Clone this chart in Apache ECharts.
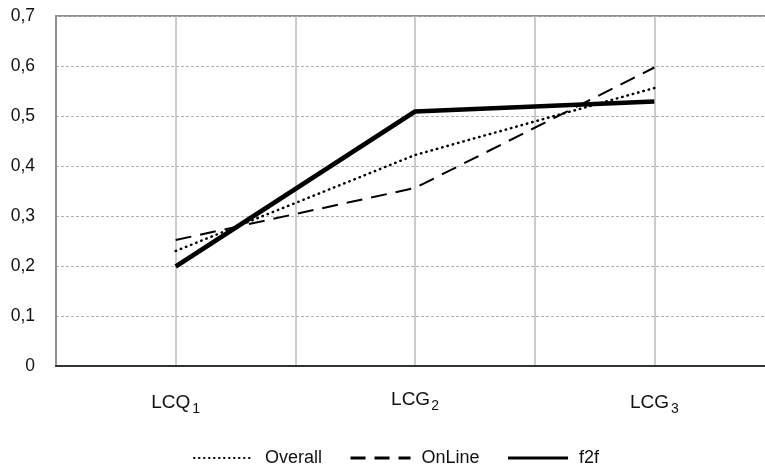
<!DOCTYPE html>
<html><head><meta charset="utf-8">
<script src="https://cdn.jsdelivr.net/npm/echarts@6/dist/echarts.min.js"></script>
<style>html,body{margin:0;padding:0;background:#fff}#c{width:765px;height:466px}</style>
</head><body><div id="c"></div>
<script>
const categories = ['LCQ1', 'LCG2', 'LCG3'];
const overall = [0.23, 0.422, 0.556];
const online = [0.252, 0.356, 0.597];
const f2f = [0.199, 0.509, 0.529];
const yTicks = [0, 0.1, 0.2, 0.3, 0.4, 0.5, 0.6, 0.7];

const font = 'Liberation Sans, Arial, sans-serif';
const chart = echarts.init(document.getElementById('c'));
chart.setOption({
  animation: false,
  backgroundColor: '#fff',
  grid: {left: 56, top: 16, width: 718, height: 350, show: true, borderColor: '#8a9094', borderWidth: 2,
     backgroundColor: 'transparent', outerBoundsMode: 'none', containLabel: false},
  legend: {
    top: 444, left: 188, itemWidth: 60, itemHeight: 14, itemGap: 27,
    textStyle: {fontFamily: font, fontSize: 18, color: '#111', padding: [0, 0, 0, 6]},
    itemStyle: {opacity: 0},
    data: [
      {name: 'Overall', lineStyle: {width: 2, type: [0.5, 4.5], cap: 'round'}},
      {name: 'OnLine', lineStyle: {width: 3, type: [15, 9]}},
      {name: 'f2f', lineStyle: {width: 3}}
    ]
  },
  xAxis: [
    {type: 'category', data: categories, boundaryGap: true,
     axisLine: {show: false}, axisTick: {show: false}, splitLine: {show: false},
     axisLabel: {
       margin: 24, fontFamily: font, fontSize: 19, color: '#111',
       formatter: function (v, i) {
         const base = v.slice(0, 3), sub = v.slice(3);
         return i === 1 ? '{b|' + base + '}{t|' + sub + '}' : '{a|' + base + '}{s|' + sub + '}';
       },
       rich: {
         a: {fontFamily: font, fontSize: 19, color: '#111', verticalAlign: 'bottom', padding: [3, 0, 0, 0]},
         s: {fontFamily: font, fontSize: 14, color: '#111', verticalAlign: 'bottom', padding: [0, 0, -4, 2]},
         b: {fontFamily: font, fontSize: 19, color: '#111', verticalAlign: 'bottom', padding: [0, 0, 0, 0]},
         t: {fontFamily: font, fontSize: 14, color: '#111', verticalAlign: 'bottom', padding: [0, 0, -4, 1]}
       }
     }},
    {type: 'value', min: 0, max: 6, interval: 1, position: 'bottom',
     axisLine: {show: true, lineStyle: {color: '#2e3436', width: 2}}, axisTick: {show: false}, axisLabel: {show: false},
     splitLine: {show: true, lineStyle: {color: '#b8bcc0', width: 1.5}}}
  ],
  yAxis: {type: 'value', min: 0, max: 0.7, interval: 0.1,
     axisLine: {show: true, lineStyle: {color: '#8a9094', width: 2}}, axisTick: {show: false},
     axisLabel: {margin: 21, fontFamily: font, fontSize: 17.5, color: '#111',
       formatter: function (v) { const t = yTicks.find(x => Math.abs(x - v) < 1e-9); return (t === 0 ? '0' : t.toFixed(1)).replace('.', ','); }},
     splitLine: {show: true, lineStyle: {color: '#b0b0b0', width: 1, type: [3, 2]}}},
  series: [
    {name: 'Overall', type: 'line', xAxisIndex: 0, data: overall, symbol: 'none',
     itemStyle: {color: '#000'},
     lineStyle: {color: '#000', width: 2.5, type: [0.5, 5], cap: 'round'}},
    {name: 'OnLine', type: 'line', xAxisIndex: 0, data: online, symbol: 'none',
     itemStyle: {color: '#000'},
     lineStyle: {color: '#000', width: 2, type: [16, 9]}},
    {name: 'f2f', type: 'line', xAxisIndex: 0, data: f2f, symbol: 'none',
     itemStyle: {color: '#000'},
     lineStyle: {color: '#000', width: 4.5}}
  ]
});
</script></body></html>
